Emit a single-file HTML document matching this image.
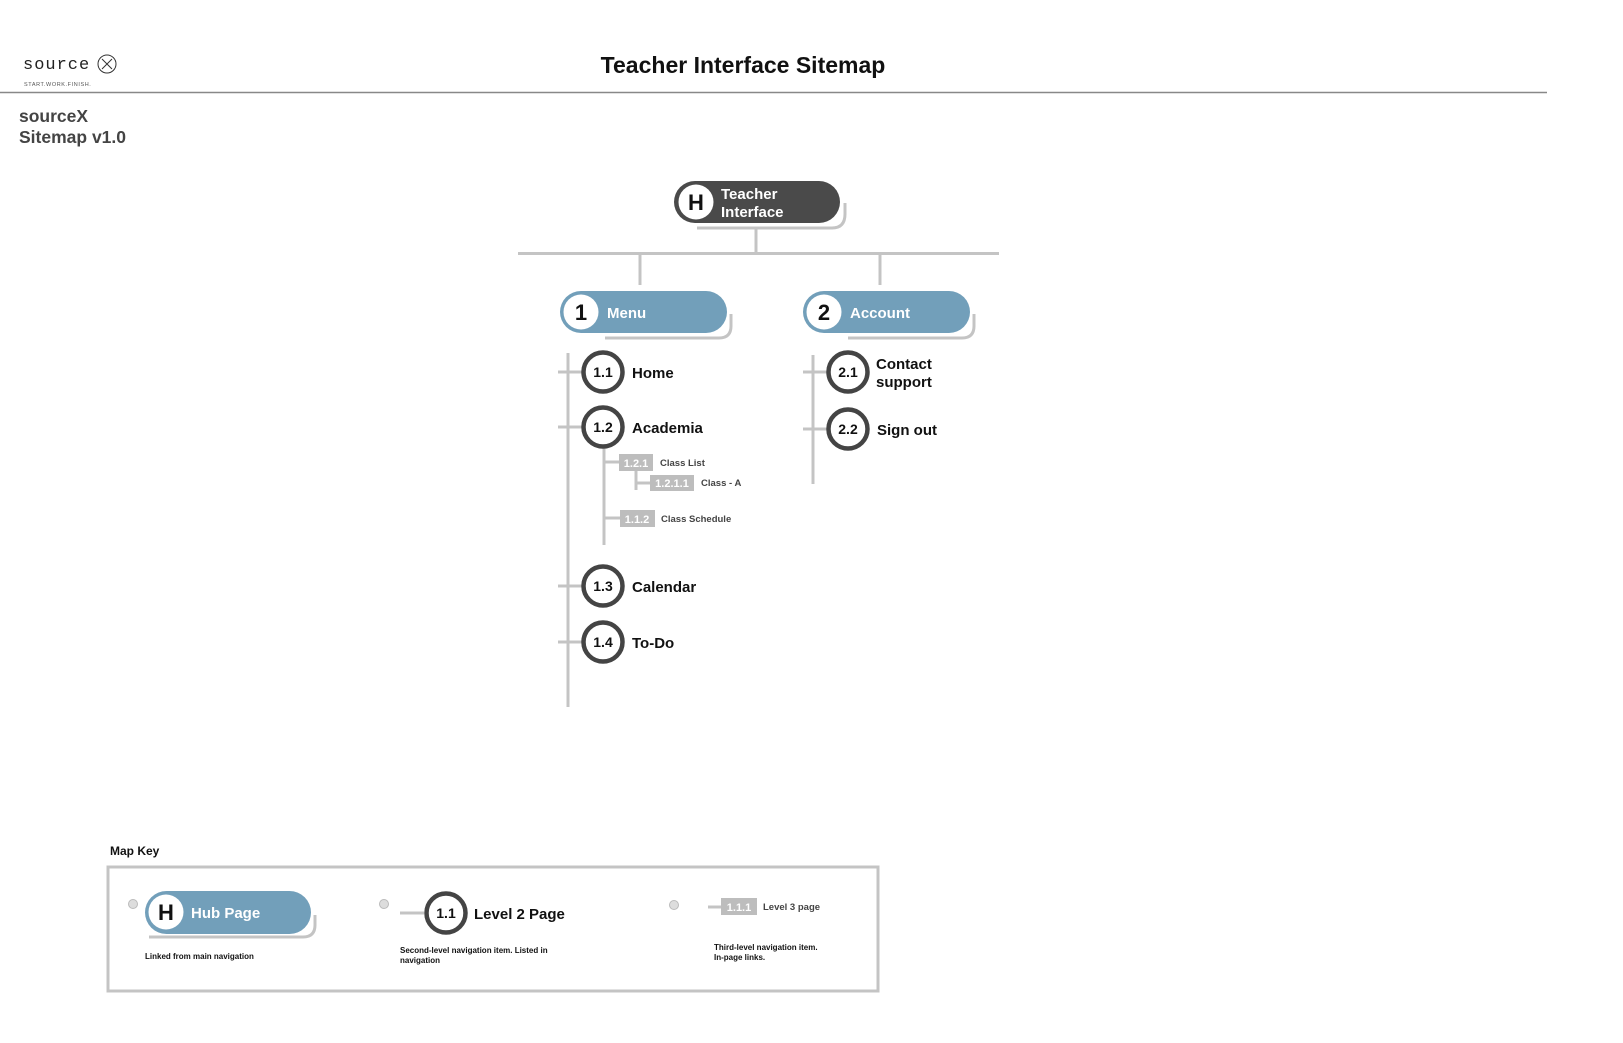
<!DOCTYPE html>
<html><head><meta charset="utf-8"><style>
html,body{margin:0;padding:0;background:#fff;}
svg{display:block;font-family:"Liberation Sans",Arial,sans-serif;}
</style></head><body>
<svg width="1623" height="1043" viewBox="0 0 1623 1043" xmlns="http://www.w3.org/2000/svg">
<!-- header -->
<text x="23" y="69" font-size="17" fill="#222" font-family="Liberation Mono, monospace" letter-spacing="1">source</text>
<circle cx="107" cy="64" r="9" fill="none" stroke="#333" stroke-width="1"/>
<path d="M102 59 L112 69 M112 59 L102 69" stroke="#333" stroke-width="1"/>
<text x="24" y="86" font-size="5.5" fill="#555" letter-spacing="0.6">START.WORK.FINISH.</text>
<text x="743" y="73" font-size="23" font-weight="bold" text-anchor="middle" fill="#111">Teacher Interface Sitemap</text>
<line x1="0" y1="92.5" x2="1547" y2="92.5" stroke="#888" stroke-width="1.5"/>
<text x="19" y="122" font-size="17.5" font-weight="bold" fill="#444">sourceX</text>
<text x="19" y="143" font-size="17.5" font-weight="bold" fill="#444">Sitemap v1.0</text>

<g stroke="#c4c4c4" stroke-width="3" fill="none">
<!-- connectors -->
<line x1="756" y1="228" x2="756" y2="253"/>
<line x1="518" y1="253.5" x2="999" y2="253.5"/>
<line x1="640" y1="253" x2="640" y2="285"/>
<line x1="880" y1="253" x2="880" y2="285"/>
<!-- shadows -->
<path d="M697 228 H832 Q845 228 845 214 V203"/>
<path d="M605 338 H719 Q731 338 731 326 V314"/>
<path d="M848 338 H962 Q974 338 974 326 V314"/>
<path d="M149 937 H303 Q315 937 315 925 V915"/>
<!-- menu tree -->
<line x1="568" y1="353" x2="568" y2="707"/>
<line x1="558" y1="372" x2="582" y2="372"/>
<line x1="558" y1="427" x2="582" y2="427"/>
<line x1="558" y1="586" x2="582" y2="586"/>
<line x1="558" y1="642" x2="582" y2="642"/>
<line x1="604" y1="448" x2="604" y2="545"/>
<line x1="604" y1="462" x2="619" y2="462"/>
<line x1="604" y1="518" x2="620" y2="518"/>
<line x1="636" y1="470" x2="636" y2="490"/>
<line x1="636" y1="483" x2="650" y2="483"/>
<!-- account tree -->
<line x1="813" y1="355" x2="813" y2="484"/>
<line x1="803" y1="372" x2="827" y2="372"/>
<line x1="803" y1="429" x2="827" y2="429"/>
<!-- key -->
<line x1="400" y1="913" x2="424" y2="913"/>
<line x1="708" y1="907" x2="721" y2="907"/>
</g>

<!-- H pill -->
<rect x="674" y="181" width="166" height="42" rx="21" fill="#4a4a4a"/>
<circle cx="696" cy="202" r="17.5" fill="#fff"/>
<text x="696" y="210" font-size="22" font-weight="bold" text-anchor="middle" fill="#111">H</text>
<text x="721" y="199" font-size="15" font-weight="bold" fill="#fff">Teacher</text>
<text x="721" y="217" font-size="15" font-weight="bold" fill="#fff">Interface</text>

<!-- Menu pill -->
<rect x="560" y="291" width="167" height="42" rx="21" fill="#729fba"/>
<circle cx="581" cy="312" r="17.5" fill="#fff"/>
<text x="581" y="320" font-size="22" font-weight="bold" text-anchor="middle" fill="#111">1</text>
<text x="607" y="318" font-size="15" font-weight="bold" fill="#fff">Menu</text>

<!-- Account pill -->
<rect x="803" y="291" width="167" height="42" rx="21" fill="#729fba"/>
<circle cx="824" cy="312" r="17.5" fill="#fff"/>
<text x="824" y="320" font-size="22" font-weight="bold" text-anchor="middle" fill="#111">2</text>
<text x="850" y="318" font-size="15" font-weight="bold" fill="#fff">Account</text>

<!-- Level 2 circles -->
<g fill="#fff" stroke="#444" stroke-width="4.5">
<circle cx="603" cy="372" r="19.5"/>
<circle cx="603" cy="427" r="19.5"/>
<circle cx="603" cy="586" r="19.5"/>
<circle cx="603" cy="642" r="19.5"/>
<circle cx="848" cy="372" r="19.5"/>
<circle cx="848" cy="429" r="19.5"/>
<circle cx="446" cy="913" r="19.5"/>
</g>
<g font-size="14" font-weight="bold" fill="#111" text-anchor="middle">
<text x="603" y="377">1.1</text>
<text x="603" y="432">1.2</text>
<text x="603" y="591">1.3</text>
<text x="603" y="647">1.4</text>
<text x="848" y="377">2.1</text>
<text x="848" y="434">2.2</text>
<text x="446" y="918">1.1</text>
</g>
<g font-size="15" font-weight="bold" fill="#111">
<text x="632" y="378">Home</text>
<text x="632" y="433">Academia</text>
<text x="632" y="592">Calendar</text>
<text x="632" y="648">To-Do</text>
<text x="876" y="369">Contact</text>
<text x="876" y="387">support</text>
<text x="877" y="435">Sign out</text>
<text x="474" y="919" font-size="15">Level 2 Page</text>
</g>

<!-- Level 3 boxes -->
<g fill="#bdbdbd">
<rect x="619" y="454" width="34" height="17"/>
<rect x="650" y="475" width="44" height="16"/>
<rect x="620" y="510" width="35" height="17"/>
<rect x="721" y="898" width="36" height="17"/>
</g>
<g font-size="11" font-weight="bold" fill="#fff" text-anchor="middle">
<text x="636" y="467">1.2.1</text>
<text x="672" y="487">1.2.1.1</text>
<text x="637" y="523">1.1.2</text>
<text x="739" y="911">1.1.1</text>
</g>
<g font-size="9.5" font-weight="bold" fill="#444">
<text x="660" y="466">Class List</text>
<text x="701" y="486">Class - A</text>
<text x="661" y="522">Class Schedule</text>
<text x="763" y="910">Level 3 page</text>
</g>

<!-- Map key -->
<text x="110" y="855" font-size="12" font-weight="bold" fill="#111">Map Key</text>
<rect x="108" y="867" width="770" height="124" fill="none" stroke="#c4c4c4" stroke-width="3"/>
<g fill="#ddd" stroke="#bbb" stroke-width="1">
<circle cx="133" cy="904" r="4.5"/>
<circle cx="384" cy="904" r="4.5"/>
<circle cx="674" cy="905" r="4.5"/>
</g>
<rect x="145" y="891" width="166" height="43" rx="21.5" fill="#729fba"/>
<circle cx="166" cy="912" r="17.5" fill="#fff"/>
<text x="166" y="920" font-size="22" font-weight="bold" text-anchor="middle" fill="#111">H</text>
<text x="191" y="918" font-size="15" font-weight="bold" fill="#fff">Hub Page</text>
<g font-size="8" font-weight="bold" fill="#111">
<text x="145" y="959">Linked from main navigation</text>
<text x="400" y="953">Second-level navigation item. Listed in</text>
<text x="400" y="963">navigation</text>
<text x="714" y="950">Third-level navigation item.</text>
<text x="714" y="960">In-page links.</text>
</g>
</svg>
</body></html>
